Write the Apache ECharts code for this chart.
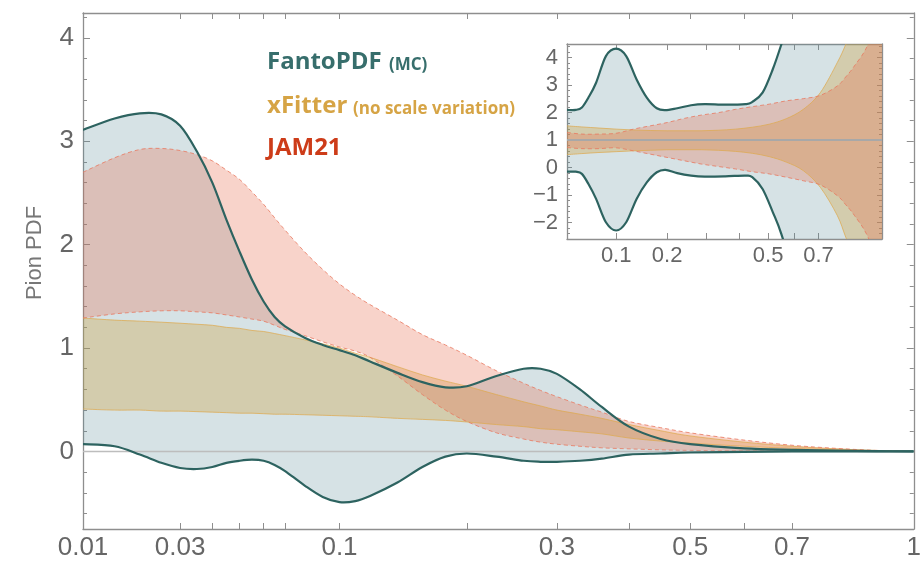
<!DOCTYPE html>
<html><head><meta charset="utf-8">
<script src="https://cdn.jsdelivr.net/npm/echarts@6/dist/echarts.min.js"></script>
<style>html,body{margin:0;padding:0;background:#fff}#c{width:924px;height:562px}</style>
</head><body><div id="c"></div>
<script>
// ---------- main panel data ----------
const xMain = [0.01, 0.015, 0.02, 0.025, 0.03, 0.035, 0.04, 0.045, 0.05, 0.055, 0.06, 0.065, 0.07, 0.08, 0.09, 0.1, 0.11, 0.12, 0.14, 0.16, 0.18, 0.2, 0.23, 0.26, 0.28, 0.3, 0.33, 0.36, 0.4, 0.45, 0.5, 0.6, 0.7, 0.8, 0.9, 1.0];
const fantoUp = [3.11, 3.22, 3.27, 3.26, 3.15, 2.90, 2.60, 2.24, 1.93, 1.66, 1.45, 1.30, 1.21, 1.10, 1.03, 0.98, 0.93, 0.87, 0.76, 0.67, 0.62, 0.63, 0.73, 0.80, 0.80, 0.75, 0.60, 0.43, 0.24, 0.12, 0.07, 0.03, 0.015, 0.008, 0.003, 0];
const fantoLo = [0.07, 0.05, -0.03, -0.11, -0.16, -0.17, -0.15, -0.11, -0.09, -0.08, -0.09, -0.13, -0.19, -0.33, -0.44, -0.49, -0.48, -0.43, -0.30, -0.15, -0.05, -0.02, -0.05, -0.09, -0.10, -0.10, -0.09, -0.07, -0.03, -0.02, -0.01, -0.005, 0, 0, 0, 0];
const xfitUp = [1.29, 1.27, 1.26, 1.25, 1.24, 1.23, 1.22, 1.20, 1.19, 1.17, 1.16, 1.14, 1.12, 1.08, 1.04, 1.00, 0.95, 0.91, 0.82, 0.74, 0.68, 0.63, 0.55, 0.48, 0.44, 0.40, 0.36, 0.32, 0.26, 0.20, 0.15, 0.09, 0.05, 0.025, 0.01, 0];
const xfitLo = [0.41, 0.40, 0.40, 0.39, 0.39, 0.385, 0.38, 0.375, 0.37, 0.37, 0.365, 0.36, 0.36, 0.355, 0.35, 0.345, 0.34, 0.335, 0.32, 0.31, 0.30, 0.285, 0.26, 0.24, 0.22, 0.21, 0.19, 0.17, 0.13, 0.10, 0.08, 0.05, 0.03, 0.015, 0.005, 0];
const jamUp = [2.70, 2.84, 2.92, 2.93, 2.91, 2.87, 2.81, 2.72, 2.63, 2.51, 2.39, 2.26, 2.14, 1.93, 1.76, 1.62, 1.51, 1.42, 1.27, 1.13, 1.03, 0.93, 0.78, 0.66, 0.59, 0.53, 0.45, 0.38, 0.29, 0.23, 0.18, 0.11, 0.06, 0.03, 0.01, 0];
const jamLo = [1.29, 1.33, 1.35, 1.36, 1.36, 1.35, 1.34, 1.32, 1.30, 1.28, 1.26, 1.22, 1.18, 1.12, 1.06, 1.01, 0.97, 0.91, 0.73, 0.55, 0.40, 0.29, 0.18, 0.12, 0.09, 0.07, 0.05, 0.035, 0.025, 0.015, 0.01, 0.005, 0.003, 0.001, 0, 0];

// ---------- inset (ratio) data ----------
const xInsF = [0.036, 0.045, 0.052, 0.06, 0.07, 0.084, 0.1, 0.117, 0.136, 0.156, 0.177, 0.196, 0.224, 0.259, 0.296, 0.356, 0.421, 0.444, 0.48, 0.517, 0.549, 0.6, 0.7, 0.85, 1.0];
const insFantoUp = [2.10, 2.10, 2.19, 2.55, 3.09, 4.06, 4.33, 4.06, 3.21, 2.55, 2.16, 2.09, 2.16, 2.27, 2.31, 2.29, 2.31, 2.39, 2.73, 3.58, 4.48, 6.0, 9.0, 14.0, 20.0];
const insFantoLo = [-0.15, -0.15, -0.23, -0.60, -1.14, -1.99, -2.29, -1.99, -1.14, -0.54, -0.17, -0.08, -0.20, -0.29, -0.33, -0.32, -0.29, -0.35, -0.78, -1.62, -2.41, -4.0, -7.0, -12.0, -18.0];
const xIns = [0.036, 0.052, 0.074, 0.1, 0.13, 0.163, 0.2, 0.241, 0.286, 0.335, 0.388, 0.444, 0.504, 0.568, 0.636, 0.708, 0.783, 0.822, 0.863, 0.929, 1.0];
const insXfitUp = [1.52, 1.48, 1.44, 1.40, 1.37, 1.35, 1.34, 1.34, 1.34, 1.36, 1.40, 1.47, 1.58, 1.78, 2.12, 2.73, 3.82, 4.48, 5.3, 7.0, 9.5];
const insXfitLo = [0.47, 0.51, 0.55, 0.58, 0.61, 0.63, 0.65, 0.65, 0.65, 0.63, 0.59, 0.52, 0.40, 0.20, -0.11, -0.72, -1.74, -2.53, -3.3, -5.0, -7.5];
const insJamUp = [1.28, 1.22, 1.22, 1.25, 1.40, 1.52, 1.64, 1.79, 1.91, 2.00, 2.12, 2.22, 2.31, 2.43, 2.51, 2.63, 2.97, 3.30, 3.70, 4.48, 6.0];
const insJamLo = [0.73, 0.69, 0.69, 0.72, 0.61, 0.49, 0.37, 0.25, 0.13, 0.04, -0.05, -0.15, -0.23, -0.35, -0.48, -0.63, -1.02, -1.35, -1.74, -2.53, -4.0];

// ---------- ticks / labels ----------
const xLabelVals = [0.01, 0.03, 0.1, 0.3, 0.5, 0.7, 1];
const xLabels = ['0.01', '0.03', '0.1', '0.3', '0.5', '0.7', '1'];
const xTickVals = [0.03, 0.04, 0.05, 0.06, 0.07, 0.1, 0.2, 0.3, 0.4, 0.5, 0.6, 0.7];
const yLabelVals = [0, 1, 2, 3, 4];
const yLabels = ['0', '1', '2', '3', '4'];
const insXLabelVals = [0.1, 0.2, 0.5, 0.7];
const insXLabels = ['0.1', '0.2', '0.5', '0.7'];
const insXTickVals = [0.1, 0.2, 0.3, 0.4, 0.5, 0.6, 0.7];
const insYLabelVals = [-2, -1, 0, 1, 2, 3, 4];
const insYLabels = ['\u22122', '\u22121', '0', '1', '2', '3', '4'];

const tMain = x => Math.pow(x, 0.35);
const tIns = x => Math.sqrt(x);

const yMinorMain = []; for (let k = -3; k <= 21; k++) if (k % 5 !== 0) yMinorMain.push(k / 5);
const yMinorIns = []; for (let k = -13; k <= 22; k++) if (k % 5 !== 0) yMinorIns.push(k / 5);

const FRAME = '#8e8e8e', LABEL = '#666', FONT = '"Liberation Sans", Arial, sans-serif';

function nearestLabel(vals, labels, t) {
  return v => { let bi = 0, bd = Infinity; vals.forEach((x, i) => { const d = Math.abs(t(x) - v); if (d < bd) { bd = d; bi = i; } }); return labels[bi]; };
}
function xAxisDef(gi, pos, min, max, labVals, labs, tickVals, t, fs, showLab) {
  return {
    type: 'value', gridIndex: gi, position: pos, min: min, max: max,
    axisLine: { show: true, onZero: false, lineStyle: { color: FRAME, width: 1.3 } },
    axisTick: { show: true, inside: true, length: 6, customValues: tickVals.map(t), lineStyle: { color: FRAME, width: 1 } },
    axisLabel: { show: showLab, customValues: labVals.map(t), formatter: nearestLabel(labVals, labs, t), color: LABEL, fontSize: fs, fontFamily: FONT, margin: 6, hideOverlap: false, showMinLabel: true, showMaxLabel: true },
    splitLine: { show: false }
  };
}
function yAxisDef(gi, pos, min, max, labVals, labs, tickVals, fs, showLab, showLine, len) {
  return {
    type: 'value', gridIndex: gi, position: pos, min: min, max: max,
    axisLine: { show: showLine, onZero: false, lineStyle: { color: FRAME, width: 1.3 } },
    axisTick: { show: true, inside: true, length: len, customValues: tickVals, lineStyle: { color: FRAME, width: 1 } },
    axisLabel: { show: showLab, customValues: labVals, formatter: nearestLabel(labVals, labs, v => v), color: LABEL, fontSize: fs, fontFamily: FONT, margin: 9 },
    splitLine: { show: false }
  };
}
function clipOf(cs) { return { type: 'rect', shape: { x: cs.x, y: cs.y, width: cs.width, height: cs.height } }; }

// Catmull-Rom smoothing of already-projected pixel points -> cubic segments
function segs(p) {
  const n = p.length, out = [], k = 1 / 6;
  for (let i = 0; i < n - 1; i++) {
    const p0 = p[Math.max(i - 1, 0)], p1 = p[i], p2 = p[i + 1], p3 = p[Math.min(i + 2, n - 1)];
    out.push([p1, [p1[0] + (p2[0] - p0[0]) * k, p1[1] + (p2[1] - p0[1]) * k],
                  [p2[0] - (p3[0] - p1[0]) * k, p2[1] - (p3[1] - p1[1]) * k], p2]);
  }
  return out;
}
const f = v => v.toFixed(2);
function openPath(p) {
  let d = 'M' + f(p[0][0]) + ',' + f(p[0][1]);
  segs(p).forEach(s => { d += ' C' + f(s[1][0]) + ',' + f(s[1][1]) + ' ' + f(s[2][0]) + ',' + f(s[2][1]) + ' ' + f(s[3][0]) + ',' + f(s[3][1]); });
  return d;
}
function bandPath(up, dn) {
  let d = openPath(up);
  const last = dn[dn.length - 1];
  d += ' L' + f(last[0]) + ',' + f(last[1]);
  segs(dn).reverse().forEach(s => { d += ' C' + f(s[2][0]) + ',' + f(s[2][1]) + ' ' + f(s[1][0]) + ',' + f(s[1][1]) + ' ' + f(s[0][0]) + ',' + f(s[0][1]); });
  return d + ' Z';
}

// filled band between two bounds, positioned with the axes' scales (api.coord)
function band(xs, lo, hi, t, xi, yi, color, z) {
  return {
    type: 'custom', coordinateSystem: 'cartesian2d', xAxisIndex: xi, yAxisIndex: yi, silent: true, z: z,
    data: xs.map((x, i) => [t(x), lo[i], hi[i]]), encode: { x: 0, y: [1, 2] },
    renderItem: (params, api) => {
      if (params.dataIndex !== 0) return null;
      const up = xs.map((x, i) => api.coord([t(x), hi[i]]));
      const dn = xs.map((x, i) => api.coord([t(x), lo[i]]));
      return { type: 'path', shape: { pathData: bandPath(up, dn) }, style: { fill: color, stroke: null }, clipPath: clipOf(params.coordSys) };
    }
  };
}
function edge(xs, ys, t, xi, yi, style, z) {
  return {
    type: 'custom', coordinateSystem: 'cartesian2d', xAxisIndex: xi, yAxisIndex: yi, silent: true, z: z,
    data: xs.map((x, i) => [t(x), ys[i]]), encode: { x: 0, y: 1 },
    renderItem: (params, api) => {
      if (params.dataIndex !== 0) return null;
      const pts = xs.map((x, i) => api.coord([t(x), ys[i]]));
      return { type: 'path', shape: { pathData: openPath(pts) }, style: Object.assign({ fill: null }, style), clipPath: clipOf(params.coordSys) };
    }
  };
}
function refLine(xi, yi, v, col, w, z) {
  return { type: 'line', xAxisIndex: xi, yAxisIndex: yi, data: [], silent: true, z: z,
    markLine: { silent: true, symbol: 'none', label: { show: false }, animation: false, lineStyle: { color: col, width: w, type: 'solid' }, data: [{ yAxis: v }] } };
}

const C_F = 'rgba(93,140,150,0.25)', C_X = 'rgba(205,160,60,0.33)', C_J = 'rgba(232,110,80,0.3)';
const L_F = { stroke: '#2d6360', lineWidth: 2.2 };
const L_X = { stroke: 'rgba(222,170,80,0.75)', lineWidth: 1 };
const L_J = { stroke: 'rgba(232,120,95,0.8)', lineWidth: 1, lineDash: [4, 3] };

const series = [
  band(xMain, fantoLo, fantoUp, tMain, 0, 0, C_F, 1),
  refLine(0, 0, 0, '#bdbdbd', 1.3, 2),
  band(xMain, xfitLo, xfitUp, tMain, 0, 0, C_X, 2),
  band(xMain, jamLo, jamUp, tMain, 0, 0, C_J, 2),
  edge(xMain, xfitUp, tMain, 0, 0, L_X, 3), edge(xMain, xfitLo, tMain, 0, 0, L_X, 3),
  edge(xMain, jamUp, tMain, 0, 0, L_J, 3), edge(xMain, jamLo, tMain, 0, 0, L_J, 3),
  edge(xMain, fantoUp, tMain, 0, 0, L_F, 5), edge(xMain, fantoLo, tMain, 0, 0, L_F, 5),
  band(xInsF, insFantoLo, insFantoUp, tIns, 2, 4, C_F, 1),
  band(xIns, insXfitLo, insXfitUp, tIns, 2, 4, C_X, 2),
  band(xIns, insJamLo, insJamUp, tIns, 2, 4, C_J, 2),
  refLine(2, 4, 1, '#a8a8a8', 2, 3),
  edge(xIns, insXfitUp, tIns, 2, 4, L_X, 3), edge(xIns, insXfitLo, tIns, 2, 4, L_X, 3),
  edge(xIns, insJamUp, tIns, 2, 4, L_J, 3), edge(xIns, insJamLo, tIns, 2, 4, L_J, 3),
  edge(xInsF, insFantoUp, tIns, 2, 4, L_F, 5), edge(xInsF, insFantoLo, tIns, 2, 4, L_F, 5)
];

const mainXmin = tMain(0.01), insXmin = tIns(0.036);
const option = {
  animation: false,
  backgroundColor: '#fff',
  grid: [
    { left: 83, right: 6, top: 13, bottom: 33 },
    { left: 567, top: 44, width: 315, height: 195 }
  ],
  xAxis: [
    xAxisDef(0, 'bottom', mainXmin, 1, xLabelVals, xLabels, xTickVals, tMain, 26, true),
    xAxisDef(0, 'top', mainXmin, 1, xLabelVals, xLabels, xTickVals, tMain, 26, false),
    xAxisDef(1, 'bottom', insXmin, 1, insXLabelVals, insXLabels, insXTickVals, tIns, 22, true),
    xAxisDef(1, 'top', insXmin, 1, insXLabelVals, insXLabels, insXTickVals, tIns, 22, false)
  ],
  yAxis: [
    yAxisDef(0, 'left', -0.75, 4.24, yLabelVals, yLabels, yLabelVals, 26, true, true, 7),
    yAxisDef(0, 'left', -0.75, 4.24, yLabelVals, yLabels, yMinorMain, 26, false, false, 4),
    yAxisDef(0, 'right', -0.75, 4.24, yLabelVals, yLabels, yLabelVals, 26, false, true, 7),
    yAxisDef(0, 'right', -0.75, 4.24, yLabelVals, yLabels, yMinorMain, 26, false, false, 4),
    yAxisDef(1, 'left', -2.6, 4.5, insYLabelVals, insYLabels, insYLabelVals, 22, true, true, 5),
    yAxisDef(1, 'left', -2.6, 4.5, insYLabelVals, insYLabels, yMinorIns, 22, false, false, 3),
    yAxisDef(1, 'right', -2.6, 4.5, insYLabelVals, insYLabels, insYLabelVals, 22, false, true, 5),
    yAxisDef(1, 'right', -2.6, 4.5, insYLabelVals, insYLabels, yMinorIns, 22, false, false, 3)
  ],
  series: series,
  graphic: [
    { type: 'text', x: 35, y: 253, rotation: Math.PI / 2, z: 100, style: { text: 'Pion PDF', fill: '#777', font: '22px "Liberation Sans"', align: 'center', verticalAlign: 'middle' } },
    { type: 'text', x: 267, y: 62, z: 100, style: { text: 'FantoPDF', fill: '#376e6c', font: 'bold 24px "Open Sans"', verticalAlign: 'middle' } },
    { type: 'text', x: 389, y: 65, z: 100, style: { text: '(MC)', fill: '#376e6c', font: 'bold 17px "Open Sans"', verticalAlign: 'middle' } },
    { type: 'text', x: 267, y: 106, z: 100, style: { text: 'xFitter', fill: '#d6a445', font: 'bold 24px "Open Sans"', verticalAlign: 'middle' } },
    { type: 'text', x: 353, y: 109, z: 100, style: { text: '(no scale variation)', fill: '#d6a445', font: 'bold 17px "Open Sans"', verticalAlign: 'middle' } },
    { type: 'text', x: 267, y: 148, z: 100, style: { text: 'JAM21', fill: '#cd3c19', font: 'bold 24px "Open Sans"', verticalAlign: 'middle' } }
  ]
};
const chart = echarts.init(document.getElementById('c'));
chart.setOption(option);
</script>
</body></html>
